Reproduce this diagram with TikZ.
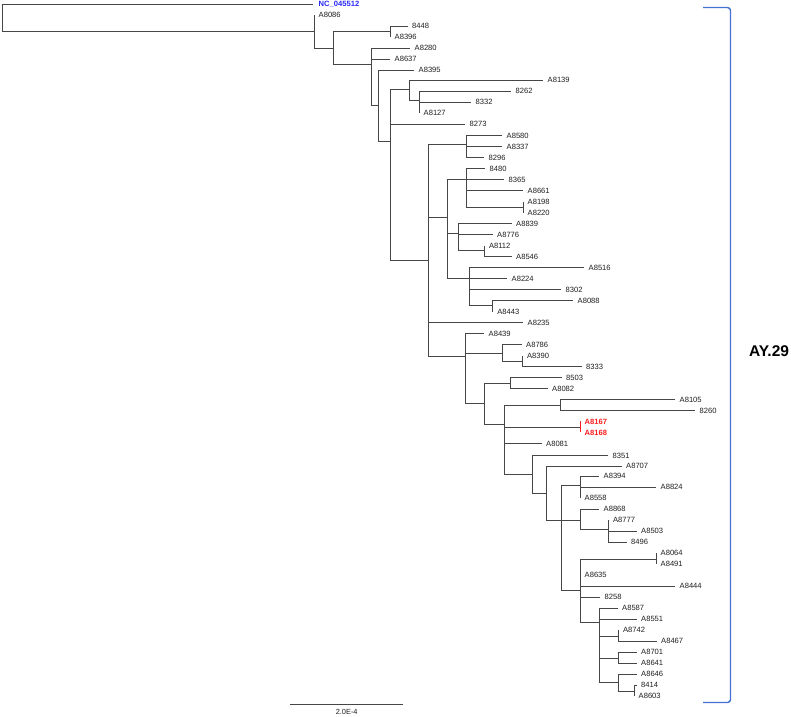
\documentclass[tikz,border=0pt]{standalone}
\usepackage{fontspec}
\setmainfont{Liberation Sans}
\definecolor{brc}{RGB}{70,70,70}
\definecolor{labc}{RGB}{30,30,30}
\definecolor{ncblue}{RGB}{40,40,250}
\definecolor{hired}{RGB}{250,30,30}
\definecolor{brk}{RGB}{68,114,210}
\tikzset{
  br/.style={draw=brc,line width=0.8pt},
  lab/.style={anchor=west,inner sep=0pt,text depth=0pt,text=labc,font=\fontsize{7.6}{8}\selectfont},
}
\newcommand{\innode}[4]{\coordinate (#1) at (#2,#3); \draw[br] (#4) |- (#1);}
\newcommand{\leafnode}[5]{\coordinate (#1) at (#2,#3); \node[lab] (#1t) at ([xshift=4.5pt]#1) {#5}; \draw[br] (#4) |- (#1);}
\begin{document}
\begin{tikzpicture}[x=1pt,y=-1pt]
\useasboundingbox (0,0) rectangle (791,716);
% root
\coordinate (R) at (2,18);
\coordinate (lNC) at (313,4);
\node[lab,text=ncblue,font=\fontsize{7.6}{8}\selectfont\bfseries] (lNCt) at ([xshift=5.5pt]lNC) {NC\_045512};
\draw[br] (R) |- (lNC);
\innode{N1}{314}{31.7}{R}
\leafnode{l2}{314}{15}{N1}{A8086}
\innode{N2}{333}{48.3}{N1}
\innode{N2a}{390}{31.7}{N2}
\leafnode{l3}{407.5}{26}{N2a}{8448}
\leafnode{l4}{390}{37}{N2a}{A8396}
\innode{N3}{371}{64.3}{N2}
\leafnode{l5}{410}{48}{N3}{A8280}
\leafnode{l6}{390}{59}{N3}{A8637}
\innode{N4}{378}{105}{N3}
\leafnode{l7}{414}{70}{N4}{A8395}
\innode{N5}{390}{141}{N4}
\innode{N5a}{409}{89.3}{N5}
\leafnode{l8}{543}{80}{N5a}{A8139}
\innode{N5b}{419}{100}{N5a}
\leafnode{l9}{511}{91}{N5b}{8262}
\leafnode{l10}{471}{102}{N5b}{8332}
\leafnode{l11}{419}{113}{N5b}{A8127}
\leafnode{l12}{465}{124}{N5}{8273}
\innode{N6}{428}{260}{N5}
\innode{N6a}{466}{144.3}{N6}
\leafnode{l13}{502}{135.8}{N6a}{A8580}
\leafnode{l14}{502}{146.8}{N6a}{A8337}
\leafnode{l15}{484}{157.8}{N6a}{8296}
\innode{N6b}{447.5}{217.3}{N6}
\innode{N7}{466}{179.3}{N6b}
\leafnode{l16}{485}{168.7}{N7}{8480}
\leafnode{l17}{504}{179.7}{N7}{8365}
\leafnode{l18}{523}{190.7}{N7}{A8661}
\innode{N7a}{523}{207}{N7}
\leafnode{l19}{523}{201.7}{N7a}{A8198}
\leafnode{l20}{523}{212.7}{N7a}{A8220}
\innode{N8}{458.3}{233.3}{N6b}
\leafnode{l21}{511.5}{223.7}{N8}{A8839}
\leafnode{l22}{492.5}{234.6}{N8}{A8776}
\innode{N8c}{484.3}{250.7}{N8}
\leafnode{l23}{484.3}{245.6}{N8c}{A8112}
\leafnode{l24}{511.5}{256.6}{N8c}{A8546}
\innode{N9}{469}{278.3}{N6b}
\leafnode{l25}{584}{267.6}{N9}{A8516}
\leafnode{l26}{507}{278.6}{N9}{A8224}
\leafnode{l27}{561}{289.6}{N9}{8302}
\innode{N9a}{492.7}{305}{N9}
\leafnode{l28}{573}{300.6}{N9a}{A8088}
\leafnode{l29}{492.7}{311.5}{N9a}{A8443}
\leafnode{l30}{523}{322.5}{N6}{A8235}
\innode{N10}{465}{356.3}{N6}
\leafnode{l31}{484}{333.5}{N10}{A8439}
\innode{N11}{502.3}{353.3}{N10}
\leafnode{l32}{521.5}{344.5}{N11}{A8786}
\innode{N11b}{522.3}{361}{N11}
\leafnode{l33}{522.3}{355.5}{N11b}{A8390}
\leafnode{l34}{581.5}{366.5}{N11b}{8333}
\innode{N12}{484.3}{403.3}{N10}
\innode{N12a}{510}{383.3}{N12}
\leafnode{l35}{561.5}{377.5}{N12a}{8503}
\leafnode{l36}{547.5}{388.5}{N12a}{A8082}
\innode{N13}{504}{424}{N12}
\innode{N13a}{560.7}{405}{N13}
\leafnode{l37}{675}{399.4}{N13a}{A8105}
\leafnode{l38}{695}{410.4}{N13a}{8260}
\innode{N13b}{580}{427}{N13}
\coordinate (l39) at (580,421.4);
\coordinate (l40) at (580,432.4);
\node[lab,text=hired,font=\fontsize{7.6}{8}\selectfont\bfseries] (l39t) at ([xshift=4.5pt]l39) {A8167};
\node[lab,text=hired,font=\fontsize{7.6}{8}\selectfont\bfseries] (l40t) at ([xshift=4.5pt]l40) {A8168};
\draw[draw=hired,line width=0.8pt] (l39) -- (l40);
\leafnode{l41}{541.5}{443.4}{N13}{A8081}
\innode{N14}{532}{474}{N13}
\leafnode{l42}{608}{455.4}{N14}{8351}
\innode{N15}{546.7}{493.3}{N14}
\leafnode{l43}{621.5}{466.3}{N15}{A8707}
\innode{N16}{561.7}{520}{N15}
\innode{N17}{580}{485}{N16}
\leafnode{l44}{599}{476.3}{N17}{A8394}
\leafnode{l45}{656}{487.3}{N17}{A8824}
\leafnode{l46}{580}{498.3}{N17}{A8558}
\innode{N18}{580}{520}{N16}
\leafnode{l47}{599}{509.2}{N18}{A8868}
\innode{N18a}{608.3}{529.3}{N18}
\leafnode{l48}{608.3}{520.2}{N18a}{A8777}
\leafnode{l49}{636.5}{531.2}{N18a}{A8503}
\leafnode{l50}{626.5}{542.2}{N18a}{8496}
\innode{N19}{580}{590}{N16}
\innode{N19a}{656}{559}{N19}
\leafnode{l51}{656}{553.2}{N19a}{A8064}
\leafnode{l52}{656}{564.2}{N19a}{A8491}
\leafnode{l53}{580}{575.2}{N19}{A8635}
\leafnode{l54}{675}{586.2}{N19}{A8444}
\leafnode{l55}{600}{597.2}{N19}{8258}
\innode{N20}{599.3}{622.7}{N19}
\leafnode{l56}{617.5}{608.2}{N20}{A8587}
\leafnode{l57}{636.5}{619.1}{N20}{A8551}
\innode{N20a}{618.3}{636}{N20}
\leafnode{l58}{618.3}{630.1}{N20a}{A8742}
\leafnode{l59}{656.5}{641.1}{N20a}{A8467}
\innode{N20b}{618.3}{658.3}{N20}
\leafnode{l60}{636.5}{652.1}{N20b}{A8701}
\leafnode{l61}{636.5}{663.1}{N20b}{A8641}
\innode{N20c}{618.3}{682.7}{N20}
\leafnode{l62}{636.5}{674.1}{N20c}{A8646}
\innode{N20d}{634}{691.5}{N20c}
\leafnode{l63}{636.5}{685.1}{N20d}{8414}
\leafnode{l64}{634}{696}{N20d}{A8603}
% scale bar
\coordinate (sb1) at (290,704.3);
\coordinate (sb2) at (403.3,704.3);
\draw[br,line width=0.7pt] (sb1) -- (sb2);
\node[inner sep=0pt,text=labc,font=\fontsize{7.4}{8}\selectfont] (sbt) at (346.7,711.5) {2.0E-4};
% bracket
\coordinate (bk1) at (703,7.5);
\coordinate (bk2) at (730.5,7.5);
\coordinate (bk3) at (730.5,702.5);
\coordinate (bk4) at (703,702.5);
\draw[draw=brk,line width=1.4pt,rounded corners=3pt] (bk1) -- (bk2) -- (bk3) -- (bk4);
\node[inner sep=0pt,font=\fontsize{15.5}{18}\selectfont\bfseries,text=black] (ay) at (769,351) {AY.29};
\end{tikzpicture}
\end{document}
